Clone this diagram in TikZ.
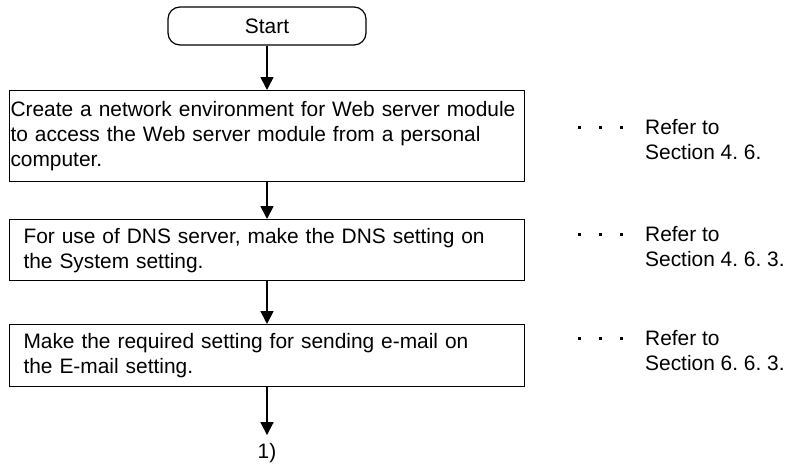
\documentclass[tikz,border=0pt]{standalone}
\usepackage{fontspec}
\setmainfont{Liberation Sans}
\usetikzlibrary{arrows.meta}
\frenchspacing

\begin{document}
\begin{tikzpicture}[
  x=1pt, y=-1pt,
  every node/.style={font=\fontsize{20.9}{25}\selectfont},
  >=Latex,
  term/.style={draw, line width=1.2pt, rounded corners=12pt,
    minimum width=198pt, minimum height=38pt},
  pbox/.style={draw, line width=1.3pt, anchor=north, align=left,
    minimum width=515pt, inner ysep=0pt},
  refer/.style={anchor=west, align=left, inner sep=0pt},
  leader/.style={anchor=west, inner sep=0pt},
  arr/.style={-{Triangle[length=13pt, width=13pt]}, line width=1.8pt},
]
\useasboundingbox (0,0) rectangle (788,466);

%% ---- Start ----
\node[term] (start) at (267,26) {Start};

%% ---- Network environment ----
\node[pbox, text width=513pt, inner xsep=1pt, minimum height=91pt]
  (netenv) at (267,90)
  {Create a network environment for Web server module\\
   to access the Web server module from a personal\\
   computer.};
\draw[arr] (start) -- (netenv);

%% ---- DNS setting ----
\node[pbox, text width=487pt, inner xsep=14pt, minimum height=61pt]
  (dns) at (267,219)
  {For use of DNS server, make the DNS setting on\\
   the System setting.};
\draw[arr] (netenv) -- (dns);

%% ---- E-mail setting ----
\node[pbox, text width=487pt, inner xsep=14pt, minimum height=62pt]
  (mail) at (267,324)
  {Make the required setting for sending e-mail on\\
   the E-mail setting.};
\draw[arr] (dns) -- (mail);

%% ---- Connector to next page ----
\node[inner sep=8pt] (link) at (267,453) {1)};
\draw[arr] (mail) -- (link);

%% ---- References ----
\node[leader] (dots1) at (578,127)
  {\rule{3pt}{3pt}\hspace{18pt}\rule{3pt}{3pt}\hspace{18pt}\rule{3pt}{3pt}};
\node[refer] (ref1) at (645,139.5) {Refer to\\Section 4. 6.};

\node[leader] (dots2) at (578,234)
  {\rule{3pt}{3pt}\hspace{18pt}\rule{3pt}{3pt}\hspace{18pt}\rule{3pt}{3pt}};
\node[refer] (ref2) at (645,246.5) {Refer to\\Section 4. 6. 3.};

\node[leader] (dots3) at (578,338)
  {\rule{3pt}{3pt}\hspace{18pt}\rule{3pt}{3pt}\hspace{18pt}\rule{3pt}{3pt}};
\node[refer] (ref3) at (645,350.5) {Refer to\\Section 6. 6. 3.};

\end{tikzpicture}
\end{document}
